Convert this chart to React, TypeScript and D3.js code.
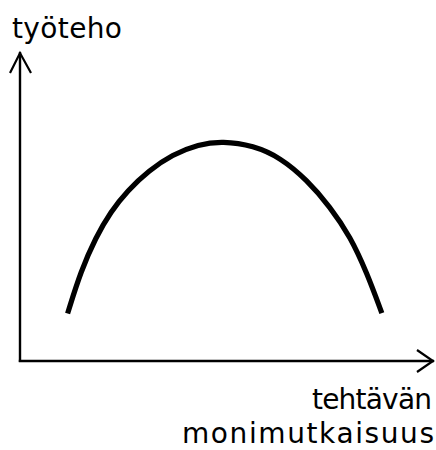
import React from "react";
import * as d3 from "d3";

// Complexity of the task (x) and work performance (y) (0–100 units)
const complexity = [11.5, 14.7, 18.3, 21.9, 26.0, 31.1, 36.8, 43.1, 48.9, 56.4, 62.9, 69.3, 74.9, 79.8, 83.8, 87.4];
const performance = [15.4, 29.1, 40.0, 48.3, 55.2, 61.6, 66.8, 70.1, 71.2, 69.7, 65.8, 58.6, 49.9, 40.2, 28.5, 15.5];

const yLabel = "työteho";
const xLabelLines = ["tehtävän", "monimutkaisuus"];

const W = 436;
const H = 450;

export default function App() {
  const x = d3.scaleLinear().domain([0, 100]).range([20, 434]);
  const y = d3.scaleLinear().domain([0, 100]).range([361, 52]);

  const pts: [number, number][] = complexity.map((c, i) => [c, performance[i]]);
  const line = d3
    .line<[number, number]>()
    .x((d) => x(d[0]))
    .y((d) => y(d[1]))
    .curve(d3.curveBasis);

  const x0 = x(0);
  const y0 = y(0);
  const xEnd = x(100);
  const yEnd = y(100);

  const font = "'DejaVu Sans', sans-serif";

  return (
    <svg
      width={W}
      height={H}
      viewBox={`0 0 ${W} ${H}`}
      style={{ position: "absolute", left: 0, top: 0, background: "#fff" }}
    >
      <rect x={0} y={0} width={W} height={H} fill="#fff" />
      {/* axes */}
      <g stroke="#000" fill="none" strokeWidth={2.4}>
        <line x1={x0} y1={y0 + 1} x2={x0} y2={yEnd} />
        <line x1={x0 - 1.2} y1={y0} x2={xEnd} y2={y0} />
        <polyline
          points={`${x0 - 10},${yEnd + 21} ${x0},${yEnd + 1} ${x0 + 11},${yEnd + 21}`}
          strokeWidth={2.2}
          strokeLinejoin="miter"
        />
        <polyline
          points={`${xEnd - 17},${y0 - 11} ${xEnd - 1},${y0} ${xEnd - 17},${y0 + 11}`}
          strokeWidth={2.2}
          strokeLinejoin="miter"
        />
      </g>
      {/* curve */}
      <path d={line(pts) ?? ""} fill="none" stroke="#000" strokeWidth={5.2} strokeLinecap="butt" />
      {/* labels */}
      <text x={12} y={37.5} fontFamily={font} fontSize={28} fill="#000" textLength={110}>
        {yLabel}
      </text>
      <text x={432} y={409.3} fontFamily={font} fontSize={28} fill="#000" textAnchor="end" textLength={120}>
        {xLabelLines[0]}
      </text>
      <text x={182} y={442.6} fontFamily={font} fontSize={28} fill="#000" textLength={252}>
        {xLabelLines[1]}
      </text>
    </svg>
  );
}
